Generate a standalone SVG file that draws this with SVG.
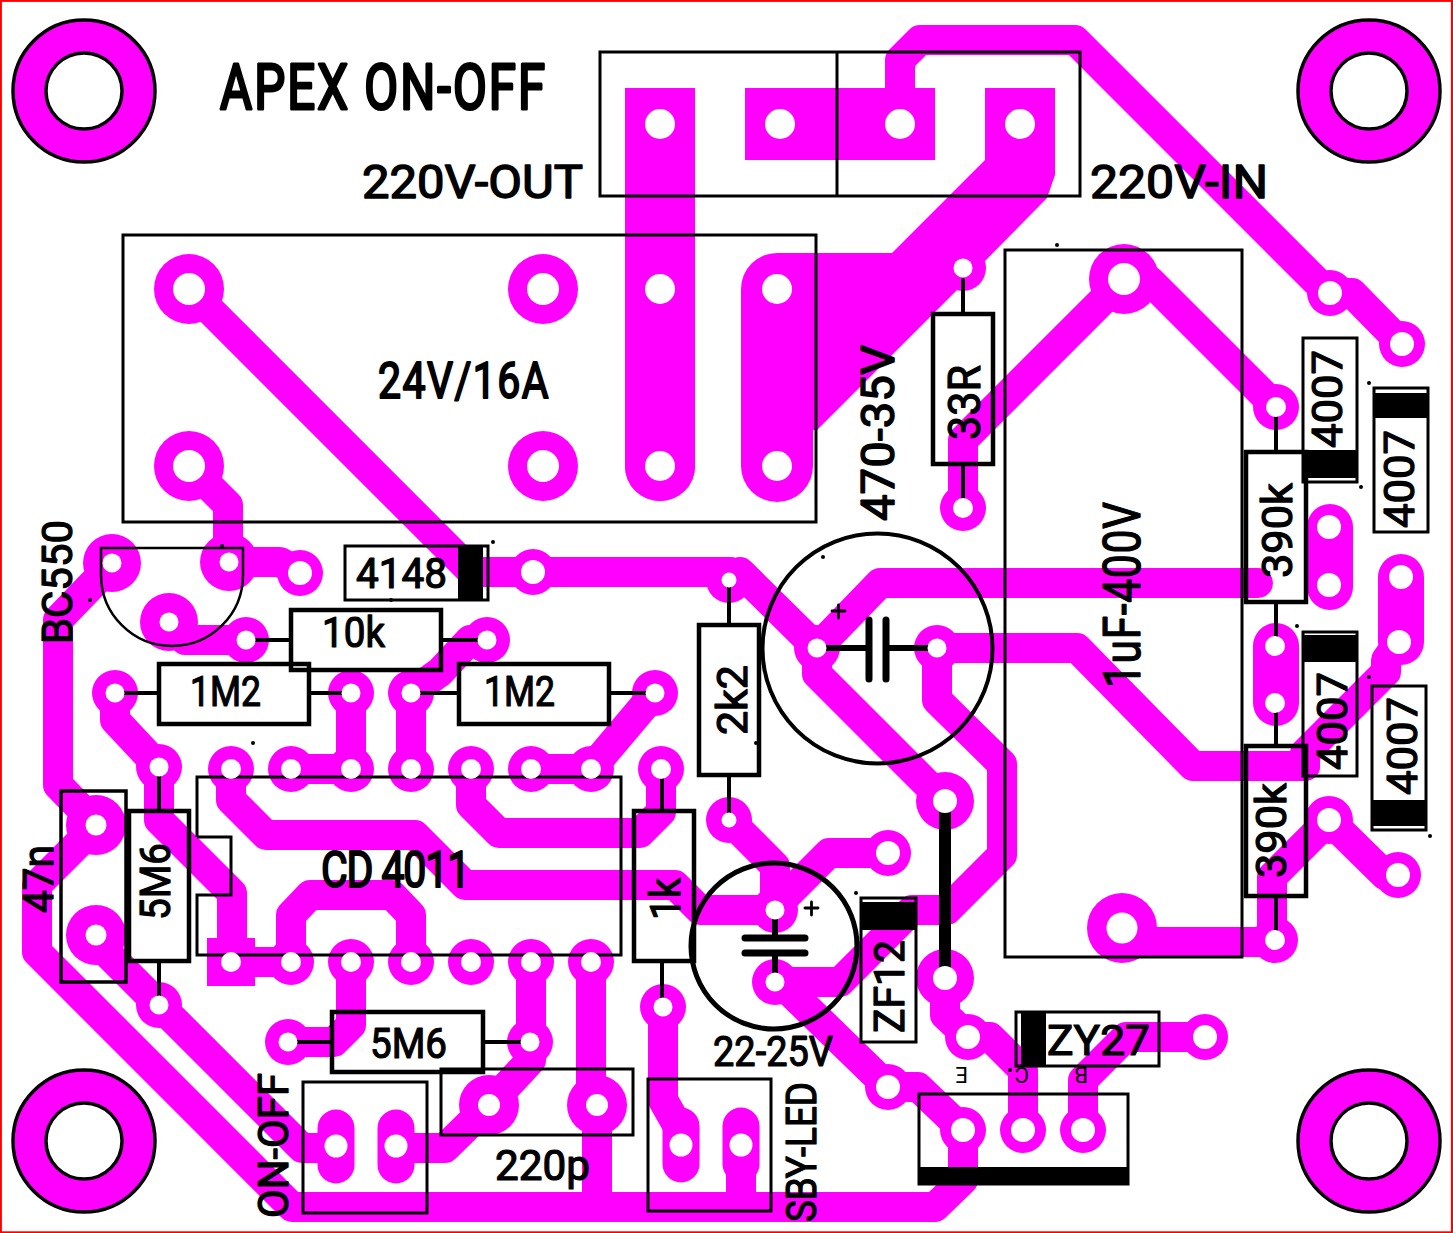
<svg xmlns="http://www.w3.org/2000/svg" width="1453" height="1233" viewBox="0 0 1453 1233">
<style>
.tr{fill:none;stroke:#ff00ff;stroke-width:30;stroke-linejoin:round;stroke-linecap:round}
.ob{fill:none;stroke:#ff00ff;stroke-linecap:round}
.mg{fill:#ff00ff}
.h{fill:#fff}
.b{fill:none;stroke:#000;stroke-width:3}
.b4{fill:none;stroke:#000;stroke-width:4.5}
.l{fill:none;stroke:#000;stroke-width:4;stroke-linecap:round}
.k{fill:#000}
.t{font-family:Roboto,"Liberation Sans",sans-serif;fill:#000;stroke:#000;stroke-width:1.2;stroke-linejoin:round;stroke-linecap:round;font-size:42px}
.mh{fill:#ff00ff;stroke:#000;stroke-width:3.5}
.mi{fill:#fff;stroke:#000;stroke-width:3.5}
</style>
<rect width="1453" height="1233" fill="#fff"/>
<rect x="0.8" y="0.8" width="1451.2" height="1231.6" fill="none" stroke="#ff0000" stroke-width="2.2"/>
<g id="mounting-holes">
<circle class="mh" cx="84" cy="91" r="71"/><circle class="mi" cx="84" cy="91" r="38"/>
<circle class="mh" cx="1369" cy="91" r="71"/><circle class="mi" cx="1369" cy="91" r="38"/>
<circle class="mh" cx="84" cy="1141" r="71"/><circle class="mi" cx="84" cy="1141" r="38"/>
<circle class="mh" cx="1369" cy="1141" r="71"/><circle class="mi" cx="1369" cy="1141" r="38"/>
</g>
<g id="copper">
<rect class="mg" x="625" y="88" width="70" height="72"/>
<rect class="mg" x="745" y="88" width="190" height="72"/>
<rect class="mg" x="985" y="88" width="70" height="72"/>
<rect class="mg" x="207" y="938" width="48" height="48"/>
<polygon class="mg" points="777,253 892,253 985,160 1055,160 1055,175 1047,198 986,260 963,284 817,430 777,430"/>
<path class="ob" style="stroke-width:70" d="M660,160V466"/>
<path class="ob" style="stroke-width:72" d="M777,289V466"/>
<path class="ob" style="stroke-width:46" d="M1330,527V587M1276,646V703M1401,577V642"/>
<path class="ob" style="stroke-width:37" d="M336,1128V1165M396,1128V1165M681,1126V1164M741,1126V1164"/>
<path class="tr" d="M900,124V60L920,40H1075L1328,293H1352L1402,344"/>
<path class="tr" d="M189,289L472,572H730M740,572L817,648L880,583H1258M817,648V674L943,800"/>
<path class="tr" d="M937,648H1077L1193,766H1305M937,648V700L1002,764V855L947,910H912L840,982H775"/>
<path class="tr" d="M1124,279L963,440V508M1150,281L1276,407"/>
<path class="tr" d="M780,982L888,1087H918L963,1130V1180L935,1207H292L37,952V885L97,825L58,785V620L112,564"/>
<path class="tr" d="M729,820L775,866V910M888,853H829L775,907"/>
<path class="tr" d="M945,978V1015L968,1037H990L1023,1070V1130M1083,1130V1080L1126,1037H1205"/>
<path class="tr" d="M189,466L228,505V562H280L300,573M169,622L185,640H246"/>
<path class="tr" d="M115,693V720L159,767V820L232,893V962H291M291,962V915L310,895H392L411,915V962M96,942L302,1148H336"/>
<path class="tr" d="M291,769H351M351,769V693M411,769V693L440,672L470,640H487M531,769H591L655,693M231,769V800L266,835H415L465,885H675L700,910H775"/>
<path class="tr" d="M471,769V805L499,833H640L661,812V769"/>
<path class="tr" d="M351,962V1025L334,1042H288M531,962V1042V1060L489,1105L445,1148H396M591,962V1090M597,1105V1207M663,1007V1100L680,1130M741,1140V1207"/>
<path class="tr" d="M1399,642L1386,660V672L1305,753V766M1398,875H1385L1329,820L1272,877V942H1122"/>
<g class="mg">
<circle cx="189" cy="289" r="35"/><circle cx="543" cy="289" r="35"/><circle cx="189" cy="466" r="35"/><circle cx="543" cy="466" r="35"/>
<circle cx="660" cy="466" r="35"/><circle cx="963" cy="268" r="23"/><circle cx="963" cy="508" r="23"/>
<circle cx="1124" cy="279" r="35"/><circle cx="1122" cy="928" r="35"/><circle cx="1276" cy="407" r="23"/><circle cx="1275" cy="940" r="23"/>
<circle cx="1330" cy="293" r="23"/><circle cx="1402" cy="344" r="23"/><circle cx="1329" cy="820" r="24"/><circle cx="1398" cy="875" r="23"/>
<circle cx="937" cy="648" r="23"/><circle cx="945" cy="801" r="29"/><circle cx="945" cy="978" r="29"/>
<circle cx="817" cy="648" r="23"/><circle cx="729" cy="580" r="23"/><circle cx="533" cy="572" r="23"/><circle cx="729" cy="820" r="23"/>
<circle cx="888" cy="853" r="23"/><circle cx="775" cy="910" r="23"/><circle cx="775" cy="982" r="23"/><circle cx="888" cy="1087" r="23"/>
<circle cx="963" cy="1130" r="23"/><circle cx="1023" cy="1130" r="23"/><circle cx="1083" cy="1130" r="23"/><circle cx="968" cy="1037" r="23"/><circle cx="1205" cy="1037" r="23"/>
<circle cx="112" cy="563" r="29"/><circle cx="229" cy="562" r="29"/><circle cx="169" cy="622" r="29"/><circle cx="300" cy="573" r="23"/><circle cx="246" cy="640" r="23"/><circle cx="487" cy="640" r="23"/>
<circle cx="115" cy="693" r="23"/><circle cx="351" cy="693" r="23"/><circle cx="411" cy="693" r="23"/><circle cx="655" cy="693" r="23"/><circle cx="159" cy="767" r="23"/><circle cx="159" cy="1005" r="23"/>
<circle cx="96" cy="825" r="30"/><circle cx="96" cy="935" r="30"/>
<circle cx="231" cy="769" r="23"/><circle cx="291" cy="769" r="23"/><circle cx="351" cy="769" r="23"/><circle cx="411" cy="769" r="23"/><circle cx="471" cy="769" r="23"/><circle cx="531" cy="769" r="23"/><circle cx="591" cy="769" r="23"/><circle cx="661" cy="769" r="23"/>
<circle cx="291" cy="962" r="23"/><circle cx="351" cy="962" r="23"/><circle cx="411" cy="962" r="23"/><circle cx="471" cy="962" r="23"/><circle cx="531" cy="962" r="23"/><circle cx="591" cy="962" r="23"/>
<circle cx="663" cy="1007" r="23"/><circle cx="288" cy="1042" r="23"/><circle cx="530" cy="1042" r="23"/><circle cx="489" cy="1105" r="30"/><circle cx="597" cy="1105" r="30"/>
</g>
</g>
<g id="parts">
<rect class="b" x="600" y="52" width="480" height="144"/><path class="b" d="M837,52V196"/>
<rect class="b" x="123" y="235" width="693" height="287"/>
<rect class="b" x="1005" y="250" width="237" height="707"/>
<rect class="b4" x="933" y="314" width="60" height="150"/><path class="l" d="M963,280V314M963,464V508"/>
<rect class="b" x="345" y="546" width="143" height="54"/><rect class="k" x="458" y="546" width="25" height="54"/>
<rect class="b4" x="291" y="610" width="150" height="60"/><path class="l" d="M246,640H291M441,640H487"/>
<rect class="b4" x="159" y="664" width="150" height="60"/><path class="l" d="M115,693H159M309,693H351"/>
<rect class="b4" x="459" y="664" width="150" height="60"/><path class="l" d="M411,693H459M609,693H655"/>
<rect class="b4" x="129" y="811" width="60" height="150"/><path class="l" d="M159,767V811M159,961V1005"/>
<rect class="b4" x="61" y="791" width="65" height="191" style="stroke-width:3.5"/>
<path class="b" d="M197,837V777H621V955H197V895H231V837H197"/>
<rect class="b4" x="332" y="1012" width="151" height="60"/><path class="l" d="M288,1042H332M483,1042H530"/>
<rect class="b" x="441" y="1069" width="192" height="66"/>
<rect class="b4" x="634" y="811" width="60" height="150"/><path class="l" d="M662,769V811M662,961V1007"/>
<rect class="b4" x="699" y="625" width="60" height="150"/><path class="l" d="M729,580V625M729,775V820"/>
<path d="M101,548H243V575A71,71 0 0 1 101,575Z" fill="none" stroke="#000" stroke-width="2.5"/>
<circle cx="877.5" cy="648.5" r="115" fill="none" stroke="#000" stroke-width="4"/>
<path d="M817,648H869M887,648H937" fill="none" stroke="#000" stroke-width="6"/>
<path d="M869,620V679M886,620V679" fill="none" stroke="#000" stroke-width="7" stroke-linecap="round"/>
<path class="l" style="stroke-width:2.8" d="M832,611H845M838.5,605V618"/>
<circle cx="774" cy="946" r="83" fill="none" stroke="#000" stroke-width="5"/>
<path d="M775,910V938M775,953V982" fill="none" stroke="#000" stroke-width="6"/>
<path d="M745,938H805M745,953H805" fill="none" stroke="#000" stroke-width="7" stroke-linecap="round"/>
<path class="l" style="stroke-width:2.8" d="M805,908H818M811.5,902V915"/>
<rect class="b" x="861" y="898" width="55" height="144"/><rect class="k" x="861" y="902" width="55" height="28"/>
<rect class="b" x="1303" y="338" width="54" height="144"/><rect class="k" x="1303" y="450" width="54" height="28"/>
<rect class="b" x="1374" y="388" width="54" height="144"/><rect class="k" x="1374" y="393" width="54" height="25"/>
<rect class="b" x="1303" y="632" width="54" height="144"/><rect class="k" x="1303" y="635" width="54" height="27"/>
<rect class="b" x="1372" y="686" width="54" height="144"/><rect class="k" x="1372" y="800" width="54" height="26"/>
<rect class="b4" x="1246" y="452" width="60" height="150"/><path class="l" d="M1276,407V452M1276,602V646"/>
<rect class="b4" x="1246" y="746" width="60" height="150"/><path class="l" d="M1276,703V746M1276,896V940"/>
<rect class="b" x="1016" y="1012" width="143" height="54"/><rect class="k" x="1021" y="1012" width="25" height="54"/>
<rect class="b" x="919" y="1094" width="209" height="90"/><rect class="k" x="918" y="1167" width="211" height="17"/>
<rect class="b" x="303" y="1082" width="124" height="131"/>
<rect class="b" x="648" y="1079" width="123" height="132"/>
<path d="M945,801V978" fill="none" stroke="#000" stroke-width="12"/>
</g>
<g id="holes" class="h">
<circle cx="660" cy="124" r="15"/><circle cx="780" cy="124" r="15"/><circle cx="900" cy="124" r="15"/><circle cx="1020" cy="124" r="15"/>
<circle cx="189" cy="289" r="16"/><circle cx="543" cy="289" r="16"/><circle cx="660" cy="289" r="15"/><circle cx="777" cy="289" r="15"/>
<circle cx="189" cy="466" r="16"/><circle cx="543" cy="466" r="16"/><circle cx="660" cy="466" r="15"/><circle cx="777" cy="466" r="15"/>
<circle cx="963" cy="268" r="9.5"/><circle cx="963" cy="508" r="10"/><circle cx="1124" cy="279" r="16"/><circle cx="1122" cy="928" r="15.5"/>
<circle cx="1276" cy="407" r="10"/><circle cx="1275" cy="940" r="10"/><circle cx="1330" cy="293" r="12"/><circle cx="1402" cy="344" r="12"/>
<circle cx="1329" cy="527" r="12"/><circle cx="1329" cy="585" r="12"/><circle cx="1275" cy="646" r="10"/><circle cx="1275" cy="703" r="10"/>
<circle cx="1401" cy="577" r="12"/><circle cx="1399" cy="642" r="12"/><circle cx="1329" cy="820" r="12"/><circle cx="1398" cy="875" r="12"/>
<circle cx="817" cy="648" r="9.5"/><circle cx="937" cy="648" r="9.5"/><circle cx="729" cy="580" r="7.5"/><circle cx="533" cy="572" r="12"/><circle cx="729" cy="820" r="7.5"/>
<circle cx="945" cy="801" r="12"/><circle cx="945" cy="978" r="12"/><circle cx="888" cy="853" r="12"/><circle cx="775" cy="910" r="9.5"/><circle cx="775" cy="982" r="9.5"/><circle cx="888" cy="1087" r="12"/>
<circle cx="963" cy="1130" r="12"/><circle cx="1023" cy="1130" r="12"/><circle cx="1083" cy="1130" r="12"/><circle cx="968" cy="1037" r="12"/><circle cx="1205" cy="1037" r="12"/>
<circle cx="112" cy="563" r="9.5"/><circle cx="229" cy="562" r="9.5"/><circle cx="169" cy="622" r="9.5"/><circle cx="300" cy="573" r="12"/><circle cx="246" cy="640" r="9.5"/><circle cx="487" cy="640" r="9.5"/>
<circle cx="115" cy="693" r="9.5"/><circle cx="351" cy="693" r="9.5"/><circle cx="411" cy="693" r="9.5"/><circle cx="655" cy="693" r="9.5"/><circle cx="159" cy="767" r="9.5"/><circle cx="159" cy="1005" r="9.5"/>
<circle cx="96" cy="825" r="10.5"/><circle cx="96" cy="935" r="10.5"/>
<circle cx="231" cy="769" r="10"/><circle cx="291" cy="769" r="10"/><circle cx="351" cy="769" r="10"/><circle cx="411" cy="769" r="10"/><circle cx="471" cy="769" r="10"/><circle cx="531" cy="769" r="10"/><circle cx="591" cy="769" r="10"/><circle cx="661" cy="769" r="10"/>
<circle cx="231" cy="962" r="10"/><circle cx="291" cy="962" r="10"/><circle cx="351" cy="962" r="10"/><circle cx="411" cy="962" r="10"/><circle cx="471" cy="962" r="10"/><circle cx="531" cy="962" r="10"/><circle cx="591" cy="962" r="10"/>
<circle cx="663" cy="1007" r="9.5"/><circle cx="288" cy="1042" r="9.5"/><circle cx="530" cy="1042" r="9.5"/><circle cx="489" cy="1105" r="11"/><circle cx="597" cy="1105" r="11"/>
<circle cx="336" cy="1146" r="11.5"/><circle cx="396" cy="1146" r="11.5"/><circle cx="681" cy="1145" r="11.5"/><circle cx="741" cy="1145" r="11.5"/>
</g>
<g id="dots" class="k">
<circle cx="1057" cy="245" r="2"/><circle cx="493" cy="542" r="2"/><circle cx="823" cy="557" r="2"/><circle cx="253" cy="743" r="2"/><circle cx="90" cy="600" r="2"/><circle cx="222" cy="546" r="2"/><circle cx="391" cy="600" r="2"/><circle cx="756" cy="743" r="2"/><circle cx="856" cy="893" r="2"/><circle cx="1361" cy="487" r="2"/><circle cx="1369" cy="383" r="2"/><circle cx="1297" cy="626" r="2"/><circle cx="1369" cy="677" r="2"/><circle cx="1430" cy="836" r="2"/><circle cx="1010" cy="1070" r="2"/>
</g>
<g id="labels">
<text class="t" transform="translate(220,109) scale(.78,1)" textLength="417" lengthAdjust="spacing" style="font-size:63px;stroke-width:3">APEX ON-OFF</text>
<text class="t" x="362" y="198" textLength="221" lengthAdjust="spacingAndGlyphs" style="font-size:46px;stroke-width:1.4">220V-OUT</text>
<text class="t" x="1090" y="198" textLength="178" lengthAdjust="spacingAndGlyphs" style="font-size:46px;stroke-width:1.4">220V-IN</text>
<text class="t" transform="translate(378,398) scale(.82,1)" textLength="208" lengthAdjust="spacing" style="font-size:50px;stroke-width:2">24V/16A</text>
<text class="t" transform="translate(894,521) rotate(-90)" textLength="176" lengthAdjust="spacingAndGlyphs" style="font-size:46px;stroke-width:1.4">470-35V</text>
<text class="t" transform="translate(980,440) rotate(-90)" textLength="75" lengthAdjust="spacingAndGlyphs" style="font-size:44px">33R</text>
<text class="t" transform="translate(1140,688) rotate(-90) scale(.82,1)" textLength="227" lengthAdjust="spacing" style="font-size:52px">1uF-400V</text>
<text class="t" x="356" y="588" textLength="91" lengthAdjust="spacingAndGlyphs">4148</text>
<text class="t" x="322" y="647" textLength="63" lengthAdjust="spacingAndGlyphs">10k</text>
<text class="t" x="190" y="706" textLength="71" lengthAdjust="spacingAndGlyphs">1M2</text>
<text class="t" x="484" y="706" textLength="71" lengthAdjust="spacingAndGlyphs">1M2</text>
<text class="t" transform="translate(72,644) rotate(-90)" textLength="124" lengthAdjust="spacingAndGlyphs">BC550</text>
<text class="t" transform="translate(53,913) rotate(-90)" textLength="68" lengthAdjust="spacingAndGlyphs">47n</text>
<text class="t" transform="translate(170,920) rotate(-90)" textLength="77" lengthAdjust="spacingAndGlyphs">5M6</text>
<text class="t" transform="translate(321,887) scale(.82,1)" textLength="182" lengthAdjust="spacing" style="font-size:50px;stroke-width:2">CD 4011</text>
<text class="t" transform="translate(680,920) rotate(-90)" textLength="42" lengthAdjust="spacingAndGlyphs">1k</text>
<text class="t" transform="translate(747,735) rotate(-90)" textLength="70" lengthAdjust="spacingAndGlyphs">2k2</text>
<text class="t" x="370" y="1058" textLength="77" lengthAdjust="spacingAndGlyphs">5M6</text>
<text class="t" x="495" y="1180" textLength="95" lengthAdjust="spacingAndGlyphs">220p</text>
<text class="t" transform="translate(288,1218) rotate(-90)" textLength="145" lengthAdjust="spacingAndGlyphs">ON-OFF</text>
<text class="t" x="713" y="1066" textLength="120" lengthAdjust="spacingAndGlyphs">22-25V</text>
<text class="t" transform="translate(816,1222) rotate(-90)" textLength="140" lengthAdjust="spacingAndGlyphs">SBY-LED</text>
<text class="t" transform="translate(904,1033) rotate(-90)" textLength="93" lengthAdjust="spacingAndGlyphs">ZF12</text>
<text class="t" x="1047" y="1055" textLength="103" lengthAdjust="spacingAndGlyphs">ZY27</text>
<text class="t" transform="translate(1342,448) rotate(-90)" textLength="98" lengthAdjust="spacingAndGlyphs">4007</text>
<text class="t" transform="translate(1414,528) rotate(-90)" textLength="98" lengthAdjust="spacingAndGlyphs">4007</text>
<text class="t" transform="translate(1347,770) rotate(-90)" textLength="98" lengthAdjust="spacingAndGlyphs">4007</text>
<text class="t" transform="translate(1417,795) rotate(-90)" textLength="98" lengthAdjust="spacingAndGlyphs">4007</text>
<text class="t" transform="translate(1292,578) rotate(-90)" textLength="95" lengthAdjust="spacingAndGlyphs">390k</text>
<text class="t" transform="translate(1286,878) rotate(-90)" textLength="95" lengthAdjust="spacingAndGlyphs">390k</text>
<text class="t" transform="translate(968,1067) rotate(180)" style="font-size:22px;stroke-width:0">E</text>
<text class="t" transform="translate(1029,1067) rotate(180)" style="font-size:22px;stroke-width:0">C</text>
<text class="t" transform="translate(1088,1067) rotate(180)" style="font-size:22px;stroke-width:0">B</text>
</g>
</svg>
